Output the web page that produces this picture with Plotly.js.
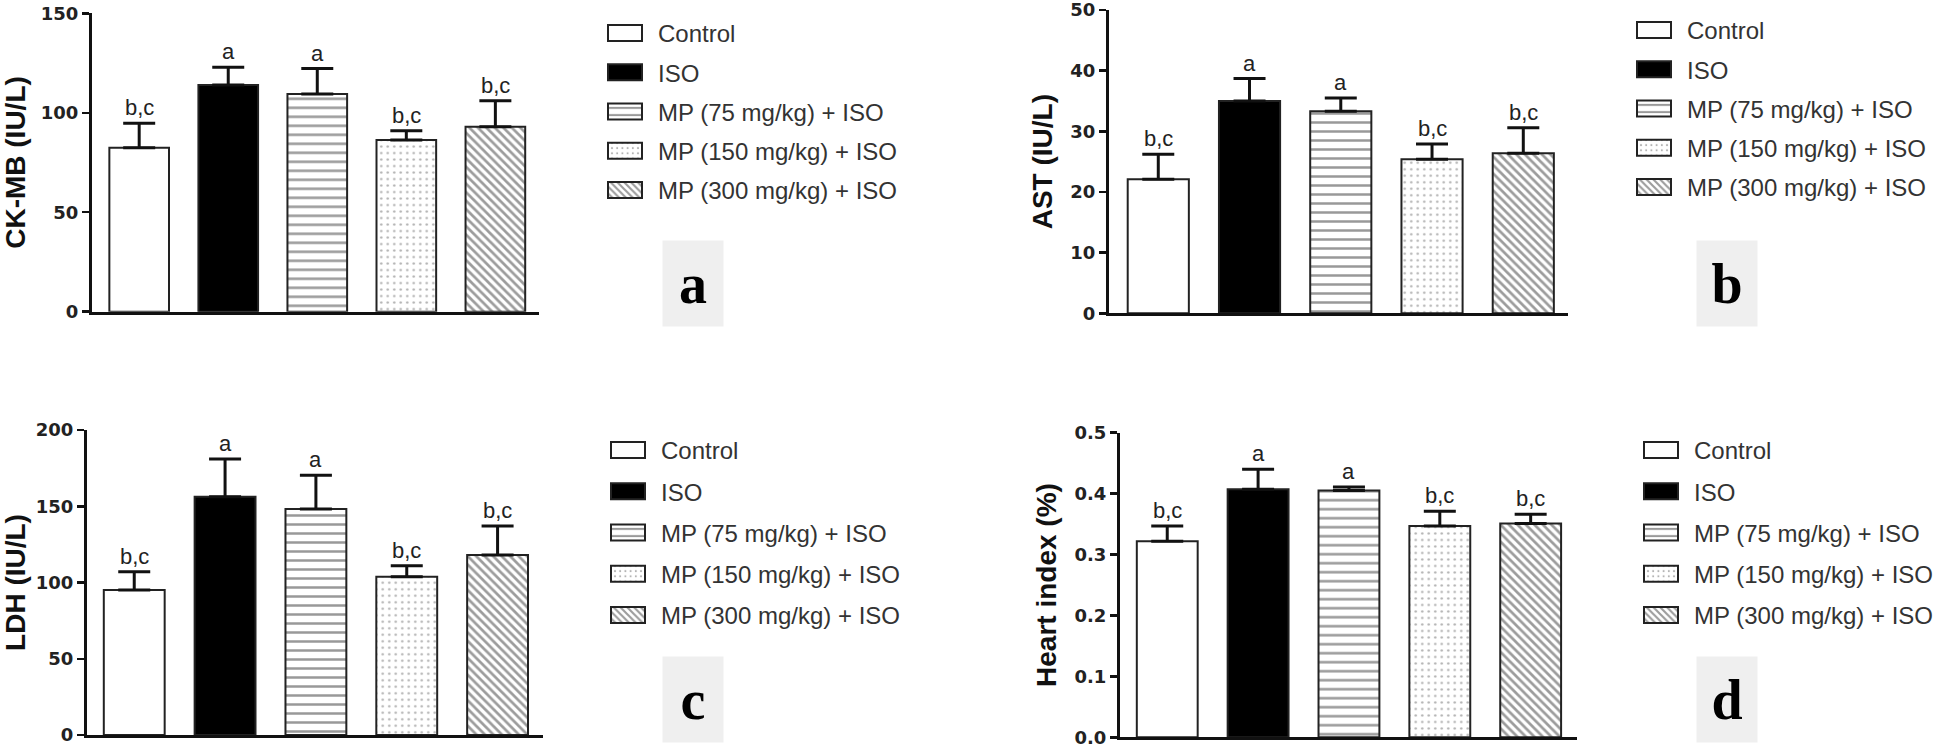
<!DOCTYPE html>
<html>
<head>
<meta charset="utf-8">
<script src="https://cdn.plot.ly/plotly-3.0.1.min.js"></script>
<style>
html,body{margin:0;padding:0;background:#fff;}
#chart{width:1946px;height:748px;}
</style>
</head>
<body>
<div id="chart"></div>
<script>
// ---------- data ----------
const groups = ['Control', 'ISO', 'MP (75 mg/kg) + ISO', 'MP (150 mg/kg) + ISO', 'MP (300 mg/kg) + ISO'];
const sigLetters = ['b,c', 'a', 'a', 'b,c', 'b,c'];

const ckmbMean = [82.4, 114.0, 109.4, 86.3, 93.0];
const ckmbSem  = [12.3, 8.9, 12.8, 4.7, 13.1];

const astMean = [22.1, 35.0, 33.3, 25.4, 26.4];
const astSem  = [4.1, 3.7, 2.2, 2.5, 4.2];

const ldhMean = [95.1, 156.3, 148.2, 103.8, 118.0];
const ldhSem  = [12.0, 24.7, 22.1, 7.2, 19.0];

const heartMean = [0.322, 0.407, 0.405, 0.347, 0.351];
const heartSem  = [0.025, 0.033, 0.006, 0.024, 0.015];

const panelTags = ['a', 'b', 'c', 'd'];
const yTitles = ['CK-MB (IU/L)', 'AST (IU/L)', 'LDH (IU/L)', 'Heart index (%)'];
const yTicks = [[0, 50, 100, 150], [0, 10, 20, 30, 40, 50], [0, 50, 100, 150, 200], [0, 0.1, 0.2, 0.3, 0.4, 0.5]];

// ---------- layout helpers ----------
const W = 1946, H = 748;
const px = v => v / W;
const py = v => 1 - v / H;

const barStyles = [
  {color: '#ffffff'},
  {color: '#000000'},
  {color: '#ffffff', pattern: {shape: '-', fgcolor: '#333333', size: 9, solidity: 0.28, fillmode: 'overlay'}},
  {color: '#ffffff', pattern: {shape: '.', fgcolor: '#666666', size: 6.5, solidity: 0.12, fillmode: 'overlay'}},
  {color: '#ffffff', pattern: {shape: '\\', fgcolor: '#3a3a3a', size: 6, solidity: 0.45, fillmode: 'overlay'}}
];

const panels = [
  {mean: ckmbMean, sem: ckmbSem, box: [92, 539, 13.3, 311.7], range: [-0.53, 4.49], legend: [592, 11], gap: 5, tag: [693, 283.5], fmt: ''},
  {mean: astMean,  sem: astSem,  box: [1109, 1568, 10, 313.3], range: [-0.54, 4.49], legend: [1621, 8], gap: 5, tag: [1726.5, 283], fmt: ''},
  {mean: ldhMean,  sem: ldhSem,  box: [87, 543, 430, 735],      range: [-0.52, 4.50], legend: [595, 428], gap: 7, tag: [693, 699.5], fmt: ''},
  {mean: heartMean, sem: heartSem, box: [1120, 1577, 432.7, 737.3], range: [-0.52, 4.51], legend: [1628, 428], gap: 7, tag: [1726.5, 699.5], fmt: '.1f'}
];

const traces = [];
const annotations = [];
const layout = {
  width: W, height: H,
  margin: {l: 0, r: 0, t: 0, b: 0},
  paper_bgcolor: '#ffffff', plot_bgcolor: 'rgba(0,0,0,0)',
  barmode: 'overlay',
  showlegend: true,
  font: {family: 'Liberation Sans, Arial, sans-serif', color: '#222'}
};

panels.forEach((p, k) => {
  const n = k === 0 ? '' : String(k + 1);
  const xa = 'x' + n, ya = 'y' + n;
  const legId = 'legend' + n;
  groups.forEach((g, i) => {
    traces.push({
      type: 'bar',
      x: [g], y: [p.mean[i]],
      xaxis: xa, yaxis: ya,
      name: g,
      legend: legId,
      legendgroup: 'p' + k + 'g' + i,
      width: 0.67,
      marker: Object.assign({line: {color: '#222', width: 2}}, barStyles[i]),
      error_y: {type: 'data', symmetric: false, array: [p.sem[i]], arrayminus: [0],
                color: '#111', thickness: 3, width: 16},
      hoverinfo: 'skip'
    });
    annotations.push({
      xref: xa, yref: ya, x: g, y: p.mean[i] + p.sem[i],
      text: sigLetters[i], showarrow: false, yanchor: 'bottom', yshift: 1,
      font: {family: 'Liberation Sans, Arial, sans-serif', size: 22, color: '#222'}
    });
  });

  layout['xaxis' + n] = {
    domain: [px(p.box[0]), px(p.box[1])],
    anchor: ya, type: 'category', categoryarray: groups, categoryorder: 'array',
    range: p.range, showline: true, linewidth: 3, linecolor: '#111',
    showticklabels: false, ticks: '', showgrid: false, zeroline: false, fixedrange: true
  };
  layout['yaxis' + n] = {
    domain: [py(p.box[3]), py(p.box[2])],
    anchor: xa, range: [0, yTicks[k][yTicks[k].length - 1]],
    tickvals: yTicks[k], tickformat: p.fmt,
    showline: true, linewidth: 3, linecolor: '#111',
    ticks: 'outside', ticklen: 7, tickwidth: 2.5, tickcolor: '#111',
    ticklabeloverflow: 'allow',
    tickfont: {family: 'DejaVu Sans, sans-serif', size: 18, weight: 'bold', color: '#222'},
    showgrid: false, zeroline: false, fixedrange: true,
    title: {text: yTitles[k], standoff: 10,
            font: {family: 'Liberation Sans, Arial, sans-serif', size: 28, weight: 'bold', color: '#111'}}
  };
  layout[legId] = {
    x: px(p.legend[0]), y: py(p.legend[1]), xanchor: 'left', yanchor: 'top',
    font: {family: 'Liberation Sans, Arial, sans-serif', size: 24, color: '#333'},
    itemwidth: 56, tracegroupgap: p.gap, bgcolor: 'rgba(0,0,0,0)', borderwidth: 0
  };
  annotations.push({
    xref: 'paper', yref: 'paper', x: px(p.tag[0]), y: py(p.tag[1]),
    xanchor: 'center', yanchor: 'middle', width: 58, height: 83,
    bgcolor: '#efefef', showarrow: false, text: '<b>' + panelTags[k] + '</b>',
    font: {family: 'Liberation Serif, Times New Roman, serif', size: 56, color: '#000'}
  });
});
layout.annotations = annotations;

Plotly.newPlot('chart', traces, layout, {staticPlot: true, displayModeBar: false}).then(gd => {
  gd.querySelectorAll('g.legendpoints path').forEach(path => {
    path.setAttribute('d', 'M17,8H-17V-8H17Z');
  });
});
</script>
</body>
</html>
